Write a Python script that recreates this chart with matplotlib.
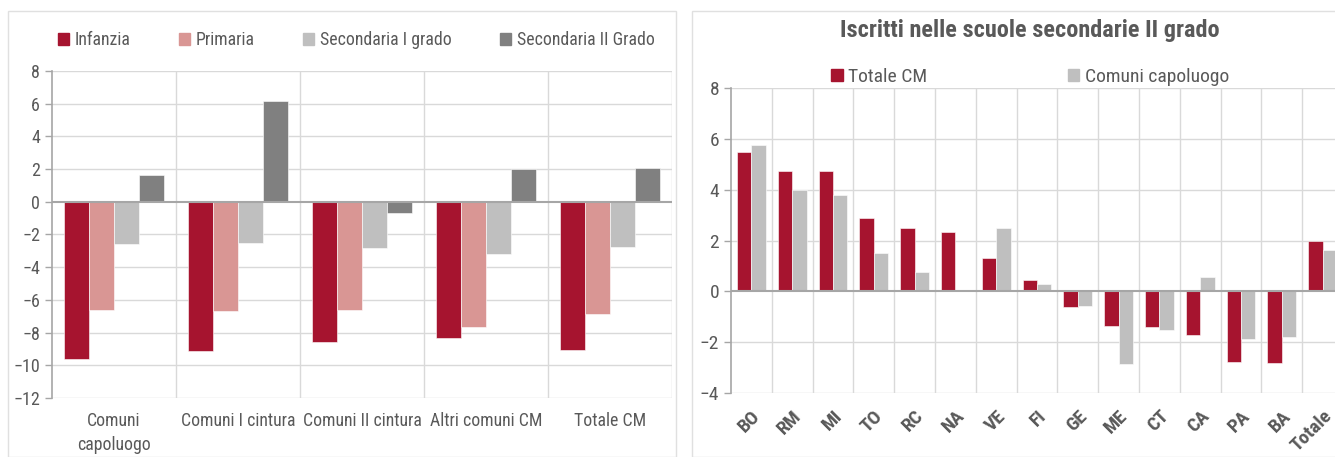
import matplotlib
matplotlib.use("Agg")
import matplotlib.pyplot as plt
from matplotlib import font_manager as fm
from matplotlib.patches import Rectangle, Patch
import numpy as np

# ---- data ----
left_categories = ["Comuni\ncapoluogo", "Comuni I cintura", "Comuni II cintura", "Altri comuni CM", "Totale CM"]
left_series_names = ["Infanzia", "Primaria", "Secondaria I grado", "Secondaria II Grado"]
infanzia = [-9.6, -9.15, -8.55, -8.35, -9.05]
primaria = [-6.6, -6.65, -6.6, -7.65, -6.85]
secondaria_1 = [-2.6, -2.5, -2.8, -3.2, -2.75]
secondaria_2 = [1.65, 6.15, -0.7, 2.0, 2.05]
left_yticks = [8, 6, 4, 2, 0, -2, -4, -6, -8, -10, -12]

right_title = "Iscritti nelle scuole secondarie II grado"
right_categories = ["BO", "RM", "MI", "TO", "RC", "NA", "VE", "FI", "GE", "ME", "CT", "CA", "PA", "BA", "Totale"]
right_series_names = ["Totale CM", "Comuni capoluogo"]
totale_cm = [5.5, 4.75, 4.72, 2.88, 2.51, 2.34, 1.31, 0.46, -0.61, -1.35, -1.41, -1.71, -2.78, -2.81, 2.0]
comuni_capoluogo = [5.75, 3.97, 3.78, 1.52, 0.77, 0.03, 2.51, 0.27, -0.58, -2.85, -1.53, 0.55, -1.88, -1.79, 1.62]
right_yticks = [8, 6, 4, 2, 0, -2, -4]

# ---- font choice ----
avail = {f.name for f in fm.fontManager.ttflist}
narrow = None
for cand in ["Liberation Sans Narrow", "DejaVu Sans Condensed", "Roboto Condensed", "Open Sans Condensed",
             "Noto Sans Condensed"]:
    if cand in avail:
        narrow = cand
        break
if narrow:
    FONT = [narrow, "Liberation Sans", "DejaVu Sans"]
    K = 1.0
else:
    FONT = ["Liberation Sans", "DejaVu Sans"]
    K = 0.84
plt.rcParams["font.family"] = FONT

# ---- style ----
C_RED = "#A6142F"
C_PINK = "#D99694"
C_LGREY = "#BFBFBF"
C_DGREY = "#808080"
TXT = "#595959"
GRID = "#D9D9D9"
AXC = "#A6A6A6"

W, H = 1335, 457
fig = plt.figure(figsize=(W / 100, H / 100), dpi=100)

fig.patches.append(Rectangle((8 / W, 0), (676 - 8) / W, 1 - 11 / H, transform=fig.transFigure,
                             fill=False, edgecolor="#E0E0E0", lw=1))
fig.patches.append(Rectangle((692 / W, 0), (1340 - 692) / W, 1 - 11 / H, transform=fig.transFigure,
                             fill=False, edgecolor="#E0E0E0", lw=1))


def style_axes(ax, ymin, ymax, yticks, n):
    ax.set_ylim(ymin, ymax)
    ax.set_xlim(-0.5, n - 0.5)
    ax.set_yticks(yticks)
    for s in ["top", "right", "bottom"]:
        ax.spines[s].set_visible(False)
    ax.spines["left"].set_color(AXC)
    ax.spines["left"].set_linewidth(1.2)
    ax.tick_params(axis="y", colors=AXC, labelcolor=TXT, length=5, width=1)
    for y in yticks:
        if y != 0:
            ax.axhline(y, color=GRID, lw=1, zorder=0)
    for xb in np.arange(0.5, n, 1.0):
        ax.axvline(xb, color=GRID, lw=1, zorder=0)
    ax.axhline(0, color=AXC, lw=1.5, zorder=3)


# ---- left chart ----
axL = fig.add_axes([52 / W, 1 - 398 / H, (672 - 52) / W, (398 - 71) / H])
xl = np.arange(len(left_categories))
bw = 0.2
series = [infanzia, primaria, secondaria_1, secondaria_2]
cols = [C_RED, C_PINK, C_LGREY, C_DGREY]
for i, (vals, c) in enumerate(zip(series, cols)):
    axL.bar(xl + (i - 1.5) * bw, vals, bw, color=c, edgecolor="white", lw=0.4, zorder=2)
style_axes(axL, -12, 8, left_yticks, len(left_categories))
axL.tick_params(axis="y", labelsize=13 * K)
axL.set_xticks(xl)
axL.set_xticklabels(left_categories, fontsize=12.8 * K, color=TXT, linespacing=1.45, va="top")
axL.tick_params(axis="x", length=0, pad=10)

handlesL = [Patch(color=c, label=nm) for c, nm in zip(cols, left_series_names)]
fig.legend(handles=handlesL, loc="center left", bbox_to_anchor=(58 / W, 1 - 40 / H), ncol=4,
           frameon=False, fontsize=12.8 * K, handlelength=0.62, handleheight=0.62, handletextpad=0.3,
           columnspacing=2.75 / K, labelcolor=TXT, borderaxespad=0, borderpad=0)

# ---- right chart ----
n = len(right_categories)
axR = fig.add_axes([731 / W, 1 - 393 / H, (n * 40.8) / W, (393 - 88) / H])
xr = np.arange(n)
bw2 = 0.355
axR.bar(xr - bw2 / 2, totale_cm, bw2, color=C_RED, edgecolor="white", lw=0.4, zorder=2)
axR.bar(xr + bw2 / 2, comuni_capoluogo, bw2, color=C_LGREY, edgecolor="white", lw=0.4, zorder=2)
style_axes(axR, -4, 8, right_yticks, n)
axR.tick_params(axis="y", labelsize=14 * K)
axR.set_xticks(xr)
axR.set_xticklabels(right_categories, rotation=45, ha="right", rotation_mode="anchor",
                    fontsize=14 * K, fontweight="bold", color=TXT)
axR.tick_params(axis="x", length=0, pad=10)

fig.text(1030 / W, 1 - 31 / H, right_title, ha="center", va="center", fontsize=17.5 * K,
         fontweight="bold", color=TXT)

handlesR = [Patch(color=c, label=nm) for c, nm in zip([C_RED, C_LGREY], right_series_names)]
fig.legend(handles=handlesR, loc="center left", bbox_to_anchor=(831 / W, 1 - 77 / H), ncol=2,
           frameon=False, fontsize=14 * K, handlelength=0.6, handleheight=0.6, handletextpad=0.3,
           columnspacing=7.2 / K, labelcolor=TXT, borderaxespad=0, borderpad=0)

fig.savefig("out.png", dpi=100)
